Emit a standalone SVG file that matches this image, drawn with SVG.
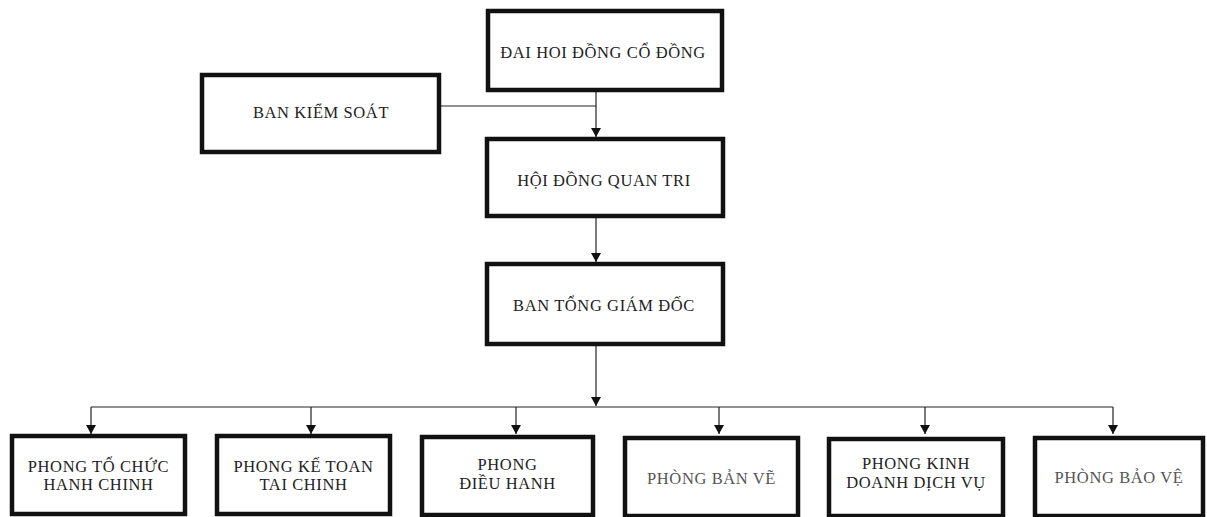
<svg xmlns="http://www.w3.org/2000/svg" width="1207" height="517" viewBox="0 0 1207 517">
<defs>
<style>
.box{fill:#fff;stroke:#111;stroke-width:4.5}
.t{font-family:"Liberation Serif","DejaVu Serif",serif;font-size:16.5px;letter-spacing:0.6px;fill:#222;text-anchor:middle}
.lt{fill:#555}
.ln{fill:none;stroke:#222;stroke-width:1.2}
</style>
<marker id="ad" markerWidth="10" markerHeight="10" refX="9" refY="5" orient="auto" markerUnits="userSpaceOnUse" viewBox="0 0 10 10">
<path d="M0,0 L9,5 L0,10 Z" fill="#111"/>
</marker>
</defs>
<rect width="1207" height="517" fill="#fff"/>
<g id="connectors">
<path class="ln" d="M596,91 V137" marker-end="url(#ad)"/>
<path class="ln" d="M440,106 H596"/>
<path class="ln" d="M596,216 V262" marker-end="url(#ad)"/>
<path class="ln" d="M596,344 V406" marker-end="url(#ad)"/>
<path class="ln" d="M91,407 H1113"/>
<path class="ln" d="M91,407 V434" marker-end="url(#ad)"/>
<path class="ln" d="M311,407 V434" marker-end="url(#ad)"/>
<path class="ln" d="M516,407 V434" marker-end="url(#ad)"/>
<path class="ln" d="M719,407 V434" marker-end="url(#ad)"/>
<path class="ln" d="M925,407 V434" marker-end="url(#ad)"/>
<path class="ln" d="M1113,407 V434" marker-end="url(#ad)"/>
</g>
<g id="dhdcd"><rect class="box" x="488" y="11" width="234" height="79"/><text class="t" x="603" y="58">ĐAI HOI ĐỒNG CỔ ĐỒNG</text></g>
<g id="bks"><rect class="box" x="202" y="75" width="237" height="77"/><text class="t" x="321" y="118">BAN KIỂM SOÁT</text></g>
<g id="hdqt"><rect class="box" x="487" y="139" width="236" height="77"/><text class="t" x="604" y="186">HỘI ĐỒNG QUAN TRI</text></g>
<g id="btgd"><rect class="box" x="487" y="264" width="236" height="80"/><text class="t" x="604" y="311">BAN TỔNG GIÁM ĐỐC</text></g>
<g id="p1"><rect class="box" x="12" y="436" width="173" height="78"/><text class="t" x="98.5" y="472">PHONG TỔ CHỨC</text><text class="t" x="98.5" y="490">HANH CHINH</text></g>
<g id="p2"><rect class="box" x="217" y="436" width="173" height="78"/><text class="t" x="303.5" y="472">PHONG KẾ TOAN</text><text class="t" x="303.5" y="490">TAI CHINH</text></g>
<g id="p3"><rect class="box" x="422" y="437" width="171" height="78"/><text class="t" x="507.5" y="470">PHONG</text><text class="t" x="507.5" y="489">ĐIỀU HANH</text></g>
<g id="p4"><rect class="box" x="625" y="438" width="173" height="78"/><text class="t lt" x="711.5" y="484">PHÒNG BẢN VẼ</text></g>
<g id="p5"><rect class="box" x="829" y="439" width="174" height="77"/><text class="t" x="916" y="469">PHONG KINH</text><text class="t" x="916" y="488">DOANH DỊCH VỤ</text></g>
<g id="p6"><rect class="box" x="1035" y="438" width="168" height="78"/><text class="t lt" x="1119" y="483">PHÒNG BẢO VỆ</text></g>
</svg>
